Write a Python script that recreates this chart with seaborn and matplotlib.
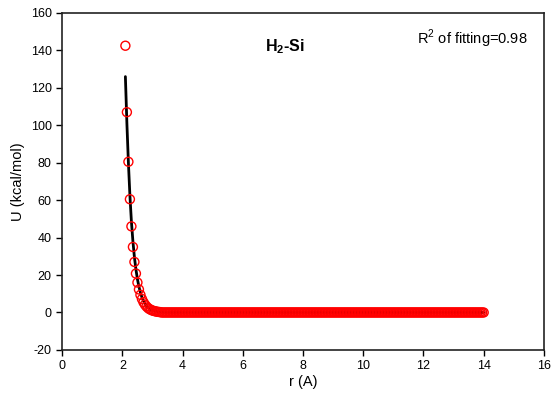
import numpy as np
import pandas as pd
import matplotlib
matplotlib.use("Agg")
import matplotlib.pyplot as plt
import seaborn as sns

# Computed points: steep repulsive head, then flat at ~0
r_head = [2.10, 2.15, 2.20, 2.25, 2.30, 2.35, 2.40, 2.45, 2.50, 2.55,
          2.60, 2.65, 2.70, 2.75, 2.80, 2.85, 2.90, 2.95, 3.00, 3.05,
          3.10, 3.15, 3.20, 3.25]
u_head = [142.5, 107.0, 80.5, 60.5, 46.0, 35.0, 27.0, 20.8, 16.0, 12.3,
          9.4, 7.2, 5.5, 4.2, 3.2, 2.4, 1.8, 1.4, 1.0, 0.8,
          0.6, 0.4, 0.3, 0.2]
# flat tail, sampled on the same 0.05 A grid up to 14 A
r_tail = np.round(np.arange(3.30, 14.001, 0.05), 2)
u_tail = [0.0] * len(r_tail)

# fitted curve (black line)
r_fit = [2.10, 2.15, 2.20, 2.25, 2.30, 2.35, 2.40, 2.45, 2.50, 2.55, 2.60,
         2.65, 2.70, 2.75, 2.80, 2.90, 3.00, 3.10, 3.20, 3.40, 3.60, 14.0]
u_fit = [126.0, 101.0, 80.0, 62.5, 48.5, 38.0, 29.5, 23.0, 17.8, 13.8, 10.6,
         8.1, 6.2, 4.7, 3.6, 2.0, 1.1, 0.6, 0.3, 0.1, 0.0, 0.0]

pts = pd.DataFrame({"r": list(r_head) + list(r_tail), "U": u_head + u_tail})
fit = pd.DataFrame({"r": r_fit, "U": u_fit})

sns.set_style("ticks")
plt.rcParams["font.family"] = ["Liberation Sans", "DejaVu Sans"]
plt.rcParams["axes.unicode_minus"] = False
plt.rcParams["mathtext.fontset"] = "custom"
plt.rcParams["mathtext.rm"] = "Liberation Sans"
plt.rcParams["mathtext.bf"] = "Liberation Sans:bold"
plt.rcParams["text.color"] = "black"
plt.rcParams["axes.labelcolor"] = "black"

fig = plt.figure(figsize=(5.55, 4.05), dpi=100)
ax = fig.add_axes([0.112, 0.136, 0.868, 0.832])

sns.lineplot(data=fit, x="r", y="U", color="black", linewidth=2, ax=ax, zorder=2)
sns.scatterplot(data=pts, x="r", y="U", marker="o", s=42, facecolors="none",
                edgecolor="red", linewidth=1.0, ax=ax, zorder=3)

ax.set_xlim(0, 16)
ax.set_ylim(-20, 160)
ax.set_xticks(range(0, 17, 2))
ax.set_yticks(range(-20, 161, 20))
ax.tick_params(direction="out", length=4, width=1, labelsize=9, colors="black")
for s in ax.spines.values():
    s.set_linewidth(1.2)
    s.set_color("#222222")

ax.set_xlabel("r (A)", fontsize=10.5, labelpad=2)
ax.set_ylabel("U (kcal/mol)", fontsize=10.5)

ax.text(7.4, 142, r"H$_\mathbf{2}$-Si", fontsize=11.5, fontweight="bold",
        ha="center", va="center")
ax.text(15.45, 146, r"R$^\mathrm{2}$ of fitting=0.98", fontsize=10.5,
        ha="right", va="center")

fig.savefig("out.png", dpi=100)
